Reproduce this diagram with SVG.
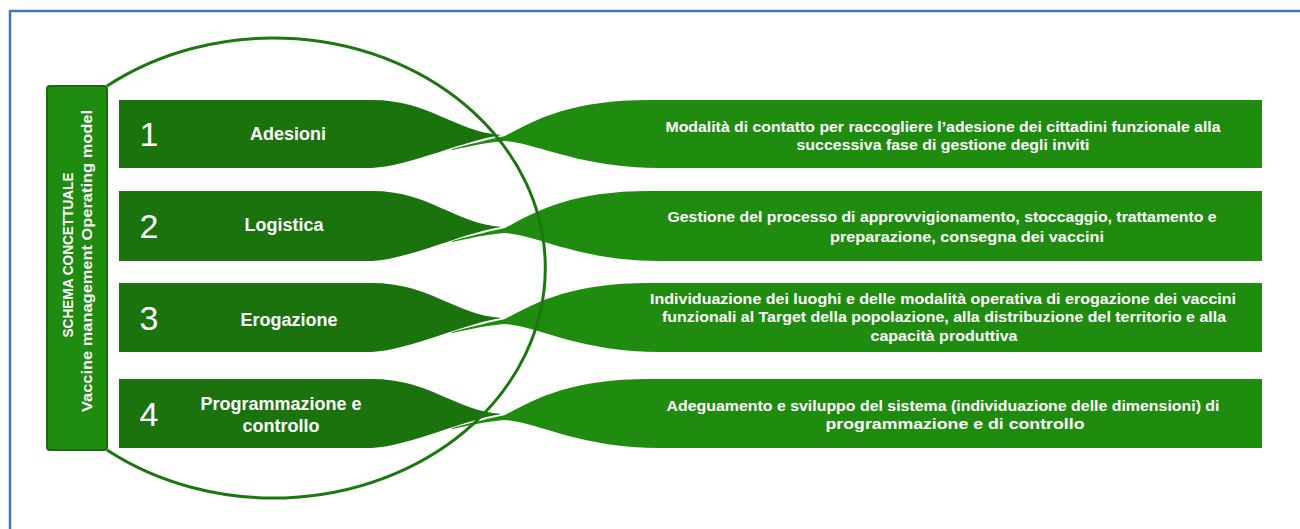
<svg xmlns="http://www.w3.org/2000/svg" width="1300" height="529" viewBox="0 0 1300 529">
<style>
.frame{fill:none;stroke:#4472c4;stroke-width:2.5}
.bar{fill:#1f8b10;stroke:#176d0c;stroke-width:2}
.lbox{fill:#1b730d}
.rbox{fill:#1f8c0f}
.ring{fill:none;stroke:#1b780f;stroke-width:3}
.num{font-family:"Liberation Sans",Arial,sans-serif;font-size:34px;fill:#fff;text-anchor:middle}
.lab{font-family:"Liberation Sans",Arial,sans-serif;font-size:18px;font-weight:bold;fill:#fff;text-anchor:middle}
.desc{font-family:"Liberation Sans",Arial,sans-serif;font-size:15px;font-weight:bold;fill:#fff;text-anchor:middle}
.bart{font-family:"Liberation Sans",Arial,sans-serif;font-weight:bold;fill:#fff;text-anchor:middle}
</style>
<path class="frame" d="M1300 11 H10 V529"/>
<g id="bar">
<rect class="bar" x="47" y="86" width="60" height="364" rx="3"/>
<text class="bart" font-size="14" transform="translate(73 255) rotate(-90)" textLength="165" lengthAdjust="spacingAndGlyphs">SCHEMA  CONCETTUALE</text>
<text class="bart" font-size="15" transform="translate(92 261) rotate(-90)" textLength="302" lengthAdjust="spacingAndGlyphs">Vaccine management Operating model</text>
</g>
<g id="step1">
<path class="lbox" d="M119 100 L372 100 C430 100 455 132 502 135 C465 140 410 166 372 168 L119 168 Z"/>
<path class="rbox" d="M452 150 C475 145 490 142 505 141 C540 144 580 168 660 168 L1262 168 L1262 100 L650 100 C570 100 535 120 505 136 C490 139 475 143 452 149 Z"/>
<text class="num" x="149" y="146">1</text>
<text class="lab" x="288" y="140">Adesioni</text>
<text class="desc" x="943" y="132" textLength="555" lengthAdjust="spacingAndGlyphs">Modalità di contatto per raccogliere l’adesione dei cittadini funzionale alla</text>
<text class="desc" x="943" y="150" textLength="293" lengthAdjust="spacingAndGlyphs">successiva fase di gestione degli inviti</text>
</g>
<g id="step2">
<path class="lbox" d="M119 191 L372 191 C430 191 455 224 502 227 C465 232 410 259 372 261 L119 261 Z"/>
<path class="rbox" d="M452 242 C475 237 490 234 505 233 C540 236 580 261 660 261 L1262 261 L1262 191 L650 191 C570 191 535 212 505 228 C490 231 475 235 452 241 Z"/>
<text class="num" x="149" y="238">2</text>
<text class="lab" x="284" y="231">Logistica</text>
<text class="desc" x="942" y="222" textLength="549" lengthAdjust="spacingAndGlyphs">Gestione del processo di approvvigionamento, stoccaggio, trattamento e</text>
<text class="desc" x="967" y="242" textLength="274" lengthAdjust="spacingAndGlyphs">preparazione, consegna dei vaccini</text>
</g>
<g id="step3">
<path class="lbox" d="M119 283 L372 283 C430 283 455 315 502 318 C465 323 410 350 372 352 L119 352 Z"/>
<path class="rbox" d="M452 333 C475 328 490 325 505 324 C540 327 580 352 660 352 L1262 352 L1262 283 L650 283 C570 283 535 303 505 319 C490 322 475 326 452 332 Z"/>
<text class="num" x="149" y="330">3</text>
<text class="lab" x="289" y="326">Erogazione</text>
<text class="desc" x="943" y="304" textLength="586" lengthAdjust="spacingAndGlyphs">Individuazione dei luoghi  e delle modalità operativa di erogazione dei vaccini</text>
<text class="desc" x="944" y="322" textLength="564" lengthAdjust="spacingAndGlyphs">funzionali al Target della popolazione, alla distribuzione del territorio  e alla</text>
<text class="desc" x="944" y="341" textLength="147" lengthAdjust="spacingAndGlyphs">capacità produttiva</text>
</g>
<g id="step4">
<path class="lbox" d="M119 379 L372 379 C430 379 455 411 502 414 C465 419 410 446 372 448 L119 448 Z"/>
<path class="rbox" d="M452 429 C475 424 490 421 505 420 C540 423 580 448 660 448 L1262 448 L1262 379 L650 379 C570 379 535 399 505 415 C490 418 475 422 452 428 Z"/>
<text class="num" x="149" y="426">4</text>
<text class="lab" x="281" y="410">Programmazione e</text>
<text class="lab" x="281" y="432">controllo</text>
<text class="desc" x="943" y="411" textLength="553" lengthAdjust="spacingAndGlyphs">Adeguamento e sviluppo del sistema (individuazione delle dimensioni) di</text>
<text class="desc" x="955" y="429" textLength="259" lengthAdjust="spacingAndGlyphs">programmazione e di controllo</text>
</g>
<g id="connectors">
<path class="ring" d="M107 86 A272 230 0 1 1 107 450"/>
</g>
</svg>
